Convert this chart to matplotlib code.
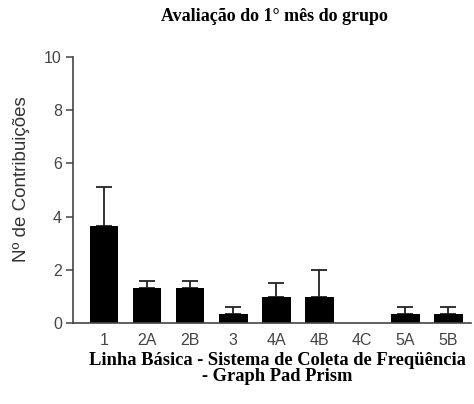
import matplotlib
matplotlib.use('Agg')
import matplotlib.pyplot as plt
import numpy as np

categories = ["1", "2A", "2B", "3", "4A", "4B", "4C", "5A", "5B"]
means = [3.65, 1.33, 1.33, 0.33, 1.0, 1.0, 0.0, 0.33, 0.33]
errors = [1.45, 0.27, 0.27, 0.27, 0.5, 1.0, 0.0, 0.27, 0.27]

fig = plt.figure(figsize=(4.74, 4.04), dpi=100)
ax = fig.add_axes([0.154, 0.2, 0.84, 0.659])

x = np.arange(len(categories))
ax.bar(x, means, width=0.67, color="black", zorder=2)
yerr = np.array([np.zeros(len(errors)), errors])
mask = np.array(errors) > 0
ax.errorbar(x[mask], np.array(means)[mask], yerr=yerr[:, mask], fmt="none",
            ecolor="#222222", elinewidth=1.3, capsize=6, capthick=1.3, zorder=1)

ax.set_xlim(-0.72, 8.53)
ax.set_ylim(0, 10)
ax.set_yticks([0, 2, 4, 6, 8, 10])
ax.set_xticks(x)
ax.set_xticklabels(categories)

for s in ["top", "right"]:
    ax.spines[s].set_visible(False)
for s in ["left", "bottom"]:
    ax.spines[s].set_color("#444444")
    ax.spines[s].set_linewidth(1.2)
ax.tick_params(axis="y", length=5, width=1.1, color="#444444", pad=3,
               labelsize=11.5, labelcolor="#444444")
ax.tick_params(axis="x", length=0, pad=7, labelsize=11.5, labelcolor="#444444")
for t in ax.get_xticklabels() + ax.get_yticklabels():
    t.set_family("Liberation Sans")

ax.set_ylabel("Nº de Contribuições", family="Liberation Sans", fontsize=13.5,
              color="#333333")
ax.yaxis.set_label_coords(-0.108, 0.54)

fig.text(0.58, 0.958, "Avaliação do 1° mês do grupo", ha="center", va="center",
         family="Liberation Serif", fontweight="bold", fontsize=13)
fig.text(0.585, 0.088, "Linha Básica - Sistema de Coleta de Freqüência\n- Graph Pad Prism",
         ha="center", va="center", family="Liberation Serif", fontweight="bold",
         fontsize=13.3, linespacing=0.95)

fig.savefig("out.png", dpi=100)
